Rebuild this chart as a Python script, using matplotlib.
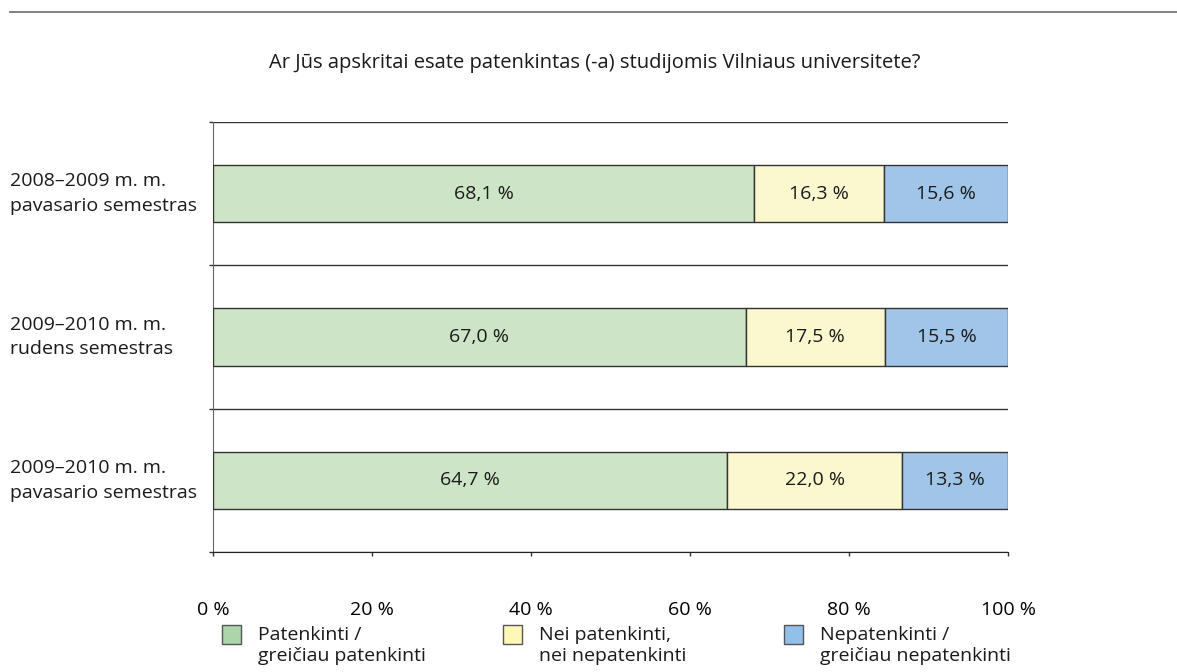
import numpy as np
import matplotlib
matplotlib.use('Agg')
import matplotlib.pyplot as plt
from matplotlib.patches import Rectangle
from matplotlib.transforms import blended_transform_factory

plt.rcParams['font.family'] = ['Open Sans', 'DejaVu Sans']

# data
title = 'Ar Jūs apskritai esate patenkintas (-a) studijomis Vilniaus universitete?'
periods = ['2008–2009 m. m.\npavasario semestras',
           '2009–2010 m. m.\nrudens semestras',
           '2009–2010 m. m.\npavasario semestras']
satisfied = [68.1, 67.0, 64.7]
neutral = [16.3, 17.5, 22.0]
unsatisfied = [15.6, 15.5, 13.3]
series_names = ['Patenkinti /\ngreičiau patenkinti',
                'Nei patenkinti,\nnei nepatenkinti',
                'Nepatenkinti /\ngreičiau nepatenkinti']
colors = ['#cde5c6', '#fbf7cf', '#a0c5e8']
legend_colors = ['#acd6a9', '#fdf7b8', '#93c0ea']

FS = 14
W, H = 1177, 672
fig = plt.figure(figsize=(W / 100, H / 100), dpi=100)
ax = fig.add_axes([213 / W, (H - 552) / H, 795 / W, (552 - 122) / H])

# top rule of the page
fig.add_artist(plt.Line2D([10 / W, 1.0], [1 - 12 / H, 1 - 12 / H],
                          color='#777777', lw=1.3))

y = np.arange(len(periods)) + 0.5
left = np.zeros(len(periods))
for vals, col in zip([satisfied, neutral, unsatisfied], colors):
    vals = np.array(vals)
    ax.barh(y, vals, left=left, height=0.4, color=col,
            edgecolor='#333333', linewidth=1.0, zorder=3)
    for yi, l, v in zip(y, left, vals):
        ax.text(l + v / 2, yi, f'{v:.1f}'.replace('.', ',') + ' %',
                ha='center', va='center', fontsize=FS, color='#1a1a1a', zorder=4)
    left += vals

ax.set_xlim(0, 100)
ax.set_ylim(3, 0)

# separators between categories
ax.set_yticks([0, 1, 2, 3])
ax.set_yticklabels([])
ax.tick_params(axis='y', length=3, width=1, color='#333333')
ax.grid(axis='y', color='#333333', lw=1, zorder=1)

ax.set_xticks(np.arange(0, 101, 20))
ax.set_xticklabels([f'{t} %' for t in range(0, 101, 20)], fontsize=FS)
ax.tick_params(axis='x', length=3, width=1, color='#333333', pad=32)

for s in ['top', 'right']:
    ax.spines[s].set_visible(False)
ax.spines['left'].set_color('#666666')
ax.spines['bottom'].set_color('#222222')

# category labels, left aligned at page margin
tr = blended_transform_factory(fig.transFigure, ax.transData)
for yi, lab in zip(y, periods):
    fig.text(10 / W, yi, lab, transform=tr, ha='left', va='center',
             fontsize=FS, linespacing=1.5, color='#1a1a1a')

fig.text(595 / W, 1 - 63 / H, title, ha='center', va='center',
         fontsize=FS + 0.5, color='#1a1a1a')

# legend drawn by hand: swatch aligned with the first text line
for i, (name, c) in enumerate(zip(series_names, legend_colors)):
    x0 = 222 + 281 * i
    fig.add_artist(Rectangle((x0 / W, 1 - 644 / H), 19 / W, 19 / H,
                             transform=fig.transFigure, facecolor=c,
                             edgecolor='#555555', lw=1))
    fig.text((x0 + 36) / W, 1 - 645.5 / H, name, ha='left', va='center',
             fontsize=FS, linespacing=1.2, color='#1a1a1a')

fig.savefig('out.png', dpi=100)
